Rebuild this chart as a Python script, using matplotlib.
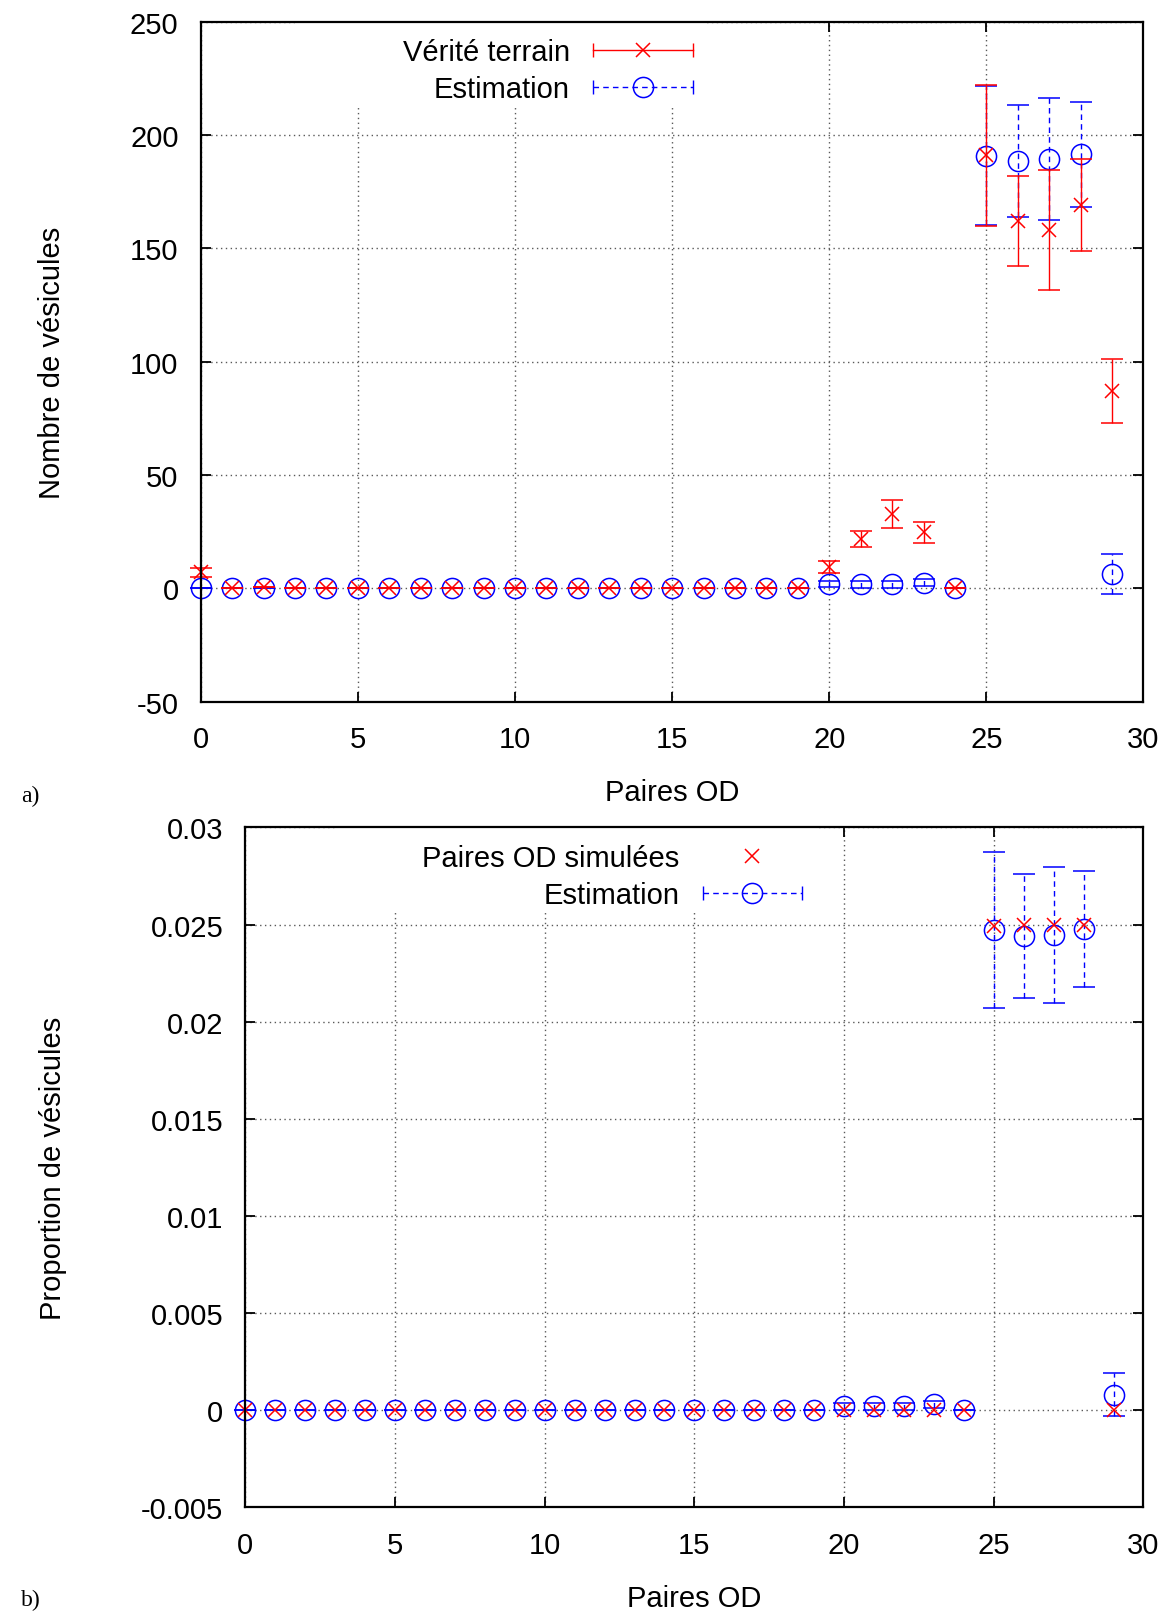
import matplotlib
matplotlib.use("Agg")
import matplotlib.pyplot as plt
from matplotlib.lines import Line2D
from matplotlib.patches import Rectangle
from matplotlib.legend_handler import HandlerLine2D
from matplotlib.ticker import FormatStrFormatter

plt.rcParams['font.family'] = ['Liberation Sans', 'DejaVu Sans']
plt.rcParams['font.size'] = 21
plt.rcParams['axes.unicode_minus'] = False

# Paires OD
pairs = list(range(30))

# a) nombre de vesicules
truth = [7, 0, 0.5, 0, 0, 0, 0, 0, 0, 0,
         0, 0, 0, 0, 0, 0, 0, 0, 0, 0,
         9.3, 21.7, 32.8, 24.7, 0, 191, 162, 158, 169, 87]
truth_err = [2, 0, 0, 0, 0, 0, 0, 0, 0, 0,
             0, 0, 0, 0, 0, 0, 0, 0, 0, 0,
             2.8, 3.5, 6.1, 4.7, 0, 31, 20, 26.6, 20.3, 14]
est = [0, 0, 0, 0, 0, 0, 0, 0, 0, 0,
       0, 0, 0, 0, 0, 0, 0, 0, 0, 0,
       1.9, 1.8, 1.8, 2.5, 0, 190.9, 188.6, 189.3, 191.4, 6.3]
est_err = [0, 0, 0, 0, 0, 0, 0, 0, 0, 0,
           0, 0, 0, 0, 0, 0, 0, 0, 0, 0,
           1.5, 1.5, 1.5, 1.5, 0, 30.8, 24.6, 27, 23, 8.9]

# b) proportion de vesicules
sim_prop = [0, 0, 0, 0, 0, 0, 0, 0, 0, 0,
            0, 0, 0, 0, 0, 0, 0, 0, 0, 0,
            0, 0, 0, 0, 0, 0.02495, 0.025, 0.025, 0.02497, 0]
est_prop = [0, 0, 0, 0, 0, 0, 0, 0, 0, 0,
            0, 0, 0, 0, 0, 0, 0, 0, 0, 0,
            0.0002, 0.0002, 0.0002, 0.0003, 0, 0.02473, 0.0244, 0.02447, 0.02478, 0.00081]
est_prop_err = [0, 0, 0, 0, 0, 0, 0, 0, 0, 0,
                0, 0, 0, 0, 0, 0, 0, 0, 0, 0,
                0.0002, 0.0002, 0.0002, 0.0002, 0, 0.0040, 0.0032, 0.0035, 0.0030, 0.00113]

fig = plt.figure(figsize=(11.74, 16.15), dpi=100)
ax1 = fig.add_axes([0.171, 0.565, 0.803, 0.421])
ax2 = fig.add_axes([0.209, 0.066, 0.765, 0.421])

RED = '#ff0000'
BLUE = '#0000ff'
DASH = (0, (4, 3))


def style_axes(ax):
    ax.grid(True, color='0.35', linestyle=(0, (1, 2.5)), linewidth=1)
    ax.set_axisbelow(True)
    for s in ax.spines.values():
        s.set_linewidth(1.6)
        s.set_zorder(5)
    ax.tick_params(direction='in', length=7, width=1.3, top=True, right=True)
    ax.tick_params(axis='x', pad=17)
    ax.tick_params(axis='y', pad=16)


def blue_errorbar(ax, y, yerr):
    eb = ax.errorbar(pairs, y, yerr=yerr, fmt='o', color=BLUE, mfc='none',
                     markersize=14.5, mew=1.1, elinewidth=1, capsize=8,
                     capthick=1, zorder=3)
    eb[2][0].set_linestyle(DASH)
    for art in [eb[0]] + list(eb[1]) + list(eb[2]):
        art.set_clip_on(False)
    return eb


def legend_handles(color, marker, ls, mks):
    line = Line2D([], [], color=color, lw=1, linestyle=ls)
    caps = Line2D([], [], color=color, marker='|', markersize=10,
                  mew=1, linestyle='none')
    mark = Line2D([], [], color=color, marker=marker, linestyle='none',
                  markersize=mks, mfc='none', mew=1.1)
    return (line, caps, mark), caps


def key_box(ax, left, right, bottom):
    # white key background hiding the grid, as gnuplot does
    ax.add_patch(Rectangle((left, bottom), right - left, 1 - bottom,
                           transform=ax.transAxes, facecolor='white',
                           edgecolor='none', zorder=1))


LEG_KW = dict(loc='upper right', markerfirst=False, frameon=False,
              borderaxespad=0, borderpad=0.57, handlelength=3.4,
              handletextpad=0.8, labelspacing=0.3)

# --- a) ---
style_axes(ax1)
blue_errorbar(ax1, est, est_err)
eb = ax1.errorbar(pairs, truth, yerr=truth_err, fmt='x', color=RED,
                  markersize=10, mew=1.1, elinewidth=1, capsize=8,
                  capthick=1, zorder=4)
for art in [eb[0]] + list(eb[1]) + list(eb[2]):
    art.set_clip_on(False)
ax1.set_xlim(0, 30)
ax1.set_ylim(-50, 250)
ax1.set_xticks([0, 5, 10, 15, 20, 25, 30])
ax1.set_yticks([-50, 0, 50, 100, 150, 200, 250])
ax1.set_xlabel('Paires OD', labelpad=18)
ax1.set_ylabel('Nombre de vésicules')
ax1.yaxis.set_label_coords(-0.143, 0.5)

key_box(ax1, 0.10, 0.537, 0.876)
h_red, caps_red = legend_handles(RED, 'x', '-', 10)
h_blue, caps_blue = legend_handles(BLUE, 'o', DASH, 14.5)
ax1.legend([h_red, h_blue], ['Vérité terrain', 'Estimation'],
           handler_map={caps_red: HandlerLine2D(numpoints=2, marker_pad=0),
                        caps_blue: HandlerLine2D(numpoints=2, marker_pad=0)},
           bbox_to_anchor=(0.5393, 1.0), **LEG_KW)

# --- b) ---
style_axes(ax2)
blue_errorbar(ax2, est_prop, est_prop_err)
ax2.plot(pairs, sim_prop, 'x', color=RED, markersize=10, mew=1.1, zorder=4,
         clip_on=False)
ax2.set_xlim(0, 30)
ax2.set_ylim(-0.005, 0.03)
ax2.set_xticks([0, 5, 10, 15, 20, 25, 30])
ax2.set_yticks([-0.005, 0, 0.005, 0.01, 0.015, 0.02, 0.025, 0.03])
ax2.yaxis.set_major_formatter(FormatStrFormatter('%g'))
ax2.set_xlabel('Paires OD', labelpad=18)
ax2.set_ylabel('Proportion de vésicules')
ax2.yaxis.set_label_coords(-0.199, 0.5)

key_box(ax2, 0.10, 0.637, 0.878)
h_sim = Line2D([], [], color=RED, marker='x', linestyle='none',
               markersize=10, mew=1.1)
h_blue2, caps_blue2 = legend_handles(BLUE, 'o', DASH, 14.5)
ax2.legend([h_sim, h_blue2], ['Paires OD simulées', 'Estimation'],
           handler_map={caps_blue2: HandlerLine2D(numpoints=2, marker_pad=0)},
           bbox_to_anchor=(0.638, 1.0), **LEG_KW)

fig.text(21 / 1174, 1 - 796 / 1615, 'a)', family='Liberation Serif',
         fontsize=17, va='center', ha='left')
fig.text(21 / 1174, 1 - 1600 / 1615, 'b)', family='Liberation Serif',
         fontsize=17, va='center', ha='left')

fig.savefig('out.png', dpi=100)
